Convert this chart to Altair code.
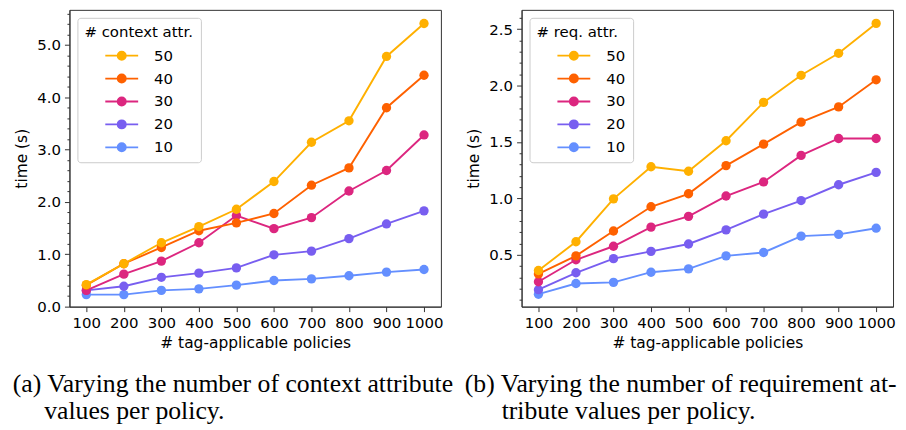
import altair as alt
import pandas as pd

# ---------------- data ----------------
policies = [100, 200, 300, 400, 500, 600, 700, 800, 900, 1000]
series_names = ["50", "40", "30", "20", "10"]
series_colors = ["#FFB000", "#FE6100", "#DC267F", "#785EF0", "#648FFF"]

ctx_50 = [0.42, 0.82, 1.22, 1.53, 1.86, 2.39, 3.14, 3.55, 4.78, 5.41]
ctx_40 = [0.41, 0.82, 1.13, 1.45, 1.60, 1.78, 2.32, 2.65, 3.80, 4.42]
ctx_30 = [0.31, 0.62, 0.87, 1.22, 1.74, 1.49, 1.70, 2.21, 2.60, 3.28]
ctx_20 = [0.31, 0.39, 0.56, 0.64, 0.74, 0.99, 1.06, 1.30, 1.58, 1.83]
ctx_10 = [0.23, 0.23, 0.31, 0.34, 0.41, 0.50, 0.53, 0.59, 0.66, 0.71]

req_50 = [0.36, 0.615, 0.995, 1.28, 1.24, 1.51, 1.85, 2.09, 2.285, 2.55]
req_40 = [0.33, 0.49, 0.71, 0.925, 1.04, 1.29, 1.48, 1.675, 1.81, 2.05]
req_30 = [0.26, 0.455, 0.575, 0.745, 0.84, 1.02, 1.145, 1.38, 1.53, 1.53]
req_20 = [0.19, 0.34, 0.465, 0.53, 0.595, 0.72, 0.86, 0.98, 1.12, 1.23]
req_10 = [0.15, 0.245, 0.255, 0.345, 0.375, 0.49, 0.52, 0.665, 0.68, 0.735]

ctx_ticks = [round(i * 0.2, 1) for i in range(0, 29)]      # 0.0 .. 5.6
req_ticks = [round(i * 0.1, 1) for i in range(1, 27)]      # 0.1 .. 2.6

caption_a = ["(a) Varying the number of context attribute", "values per policy."]
caption_b = ["(b) Varying the number of requirement at-", "tribute values per policy."]


def long_table(series):
    rows = []
    # plot order 10 -> 50 so that 50 is drawn on top
    for name in ["10", "20", "30", "40", "50"]:
        for p, v in zip(policies, series[name]):
            rows.append({"policies": p, "time": v, "series": name})
    return pd.DataFrame(rows)


ctx_df = long_table({"50": ctx_50, "40": ctx_40, "30": ctx_30, "20": ctx_20, "10": ctx_10})
req_df = long_table({"50": req_50, "40": req_40, "30": req_30, "20": req_20, "10": req_10})

SYMBOL = "M-3.3,0L3.3,0M0.82,0A0.82,0.82,0,1,1,-0.82,0A0.82,0.82,0,1,1,0.82,0Z"
FONT = "DejaVu Sans"
SERIF = "Liberation Serif"


def caption_layer(text, dx, dy):
    return alt.Chart(pd.DataFrame({"t": [text]})).mark_text(
        align="left", baseline="alphabetic", font=SERIF, fontSize=25.8, color="black"
    ).encode(x=alt.value(dx), y=alt.value(dy), text="t:N")


def panel(df, legend_title, ydomain, yticks, major_test, caption, indent):
    color = alt.Color(
        "series:N",
        scale=alt.Scale(domain=series_names, range=series_colors),
        sort=series_names,
        legend=alt.Legend(
            title=legend_title, orient="top-left", offset=8, padding=7,
            strokeColor="#cccccc", fillColor="rgba(255,255,255,0.85)", cornerRadius=3,
            titleFont=FONT, titleFontSize=15, titleFontWeight="normal", titleColor="black",
            titlePadding=8.5, labelFont=FONT, labelFontSize=15, labelColor="black",
            symbolType=SYMBOL, symbolSize=100, symbolStrokeWidth=1.8,
            symbolOffset=30, labelOffset=25, rowPadding=6, symbolOpacity=1,
        ),
    )
    x = alt.X(
        "policies:Q",
        scale=alt.Scale(domain=[55, 1045], nice=False, zero=False),
        axis=alt.Axis(values=policies, format="d", title="# tag-applicable policies",
                      tickSize=5, labelPadding=4, titlePadding=5, labelFlush=False,
                      labelOverlap=False, grid=False),
    )
    y = alt.Y(
        "time:Q",
        scale=alt.Scale(domain=ydomain, nice=False, zero=False),
        axis=alt.Axis(values=yticks, title="time (s)",
                      labelExpr=f"({major_test}) ? format(datum.value, '.1f') : ''",
                      labelFontSize={"condition": {"test": major_test, "value": 15}, "value": 0},
                      tickSize={"condition": {"test": major_test, "value": 5}, "value": 2.5},
                      labelPadding=4, titlePadding=7, labelOverlap=False, grid=False),
    )
    base = alt.Chart(df).encode(x=x, y=y, color=color)
    lines = base.mark_line(strokeWidth=1.9)
    pts = base.mark_point(filled=True, size=88, opacity=1)
    cap1 = caption_layer(caption[0], -57, 384)
    cap2 = caption_layer(caption[1], indent, 411)
    return alt.layer(lines, pts, cap1, cap2).properties(width=373, height=298)


left = panel(ctx_df, "# context attr.", [0, 5.67], ctx_ticks,
             "abs(datum.value - round(datum.value)) < 0.001", caption_a, -25.4)
right = panel(req_df, "# req. attr.", [0.04, 2.67], req_ticks,
              "abs(datum.value * 2 - round(datum.value * 2)) < 0.001", caption_b, -20)

chart = (
    alt.hconcat(left, right, spacing=81, bounds="flush")
    .resolve_scale(color="independent")
    .properties(padding={"left": 3.7, "top": 0, "right": 0, "bottom": 0})
    .configure_axis(labelFont=FONT, labelFontSize=15, labelColor="black",
                    titleFont=FONT, titleFontSize=15.5, titleFontWeight="normal",
                    titleColor="black", domainColor="#333333", tickColor="#333333")
    .configure_view(stroke="#333333", strokeWidth=1)
)

chart.save("out.html", embed_options={"renderer": "svg", "actions": False})
